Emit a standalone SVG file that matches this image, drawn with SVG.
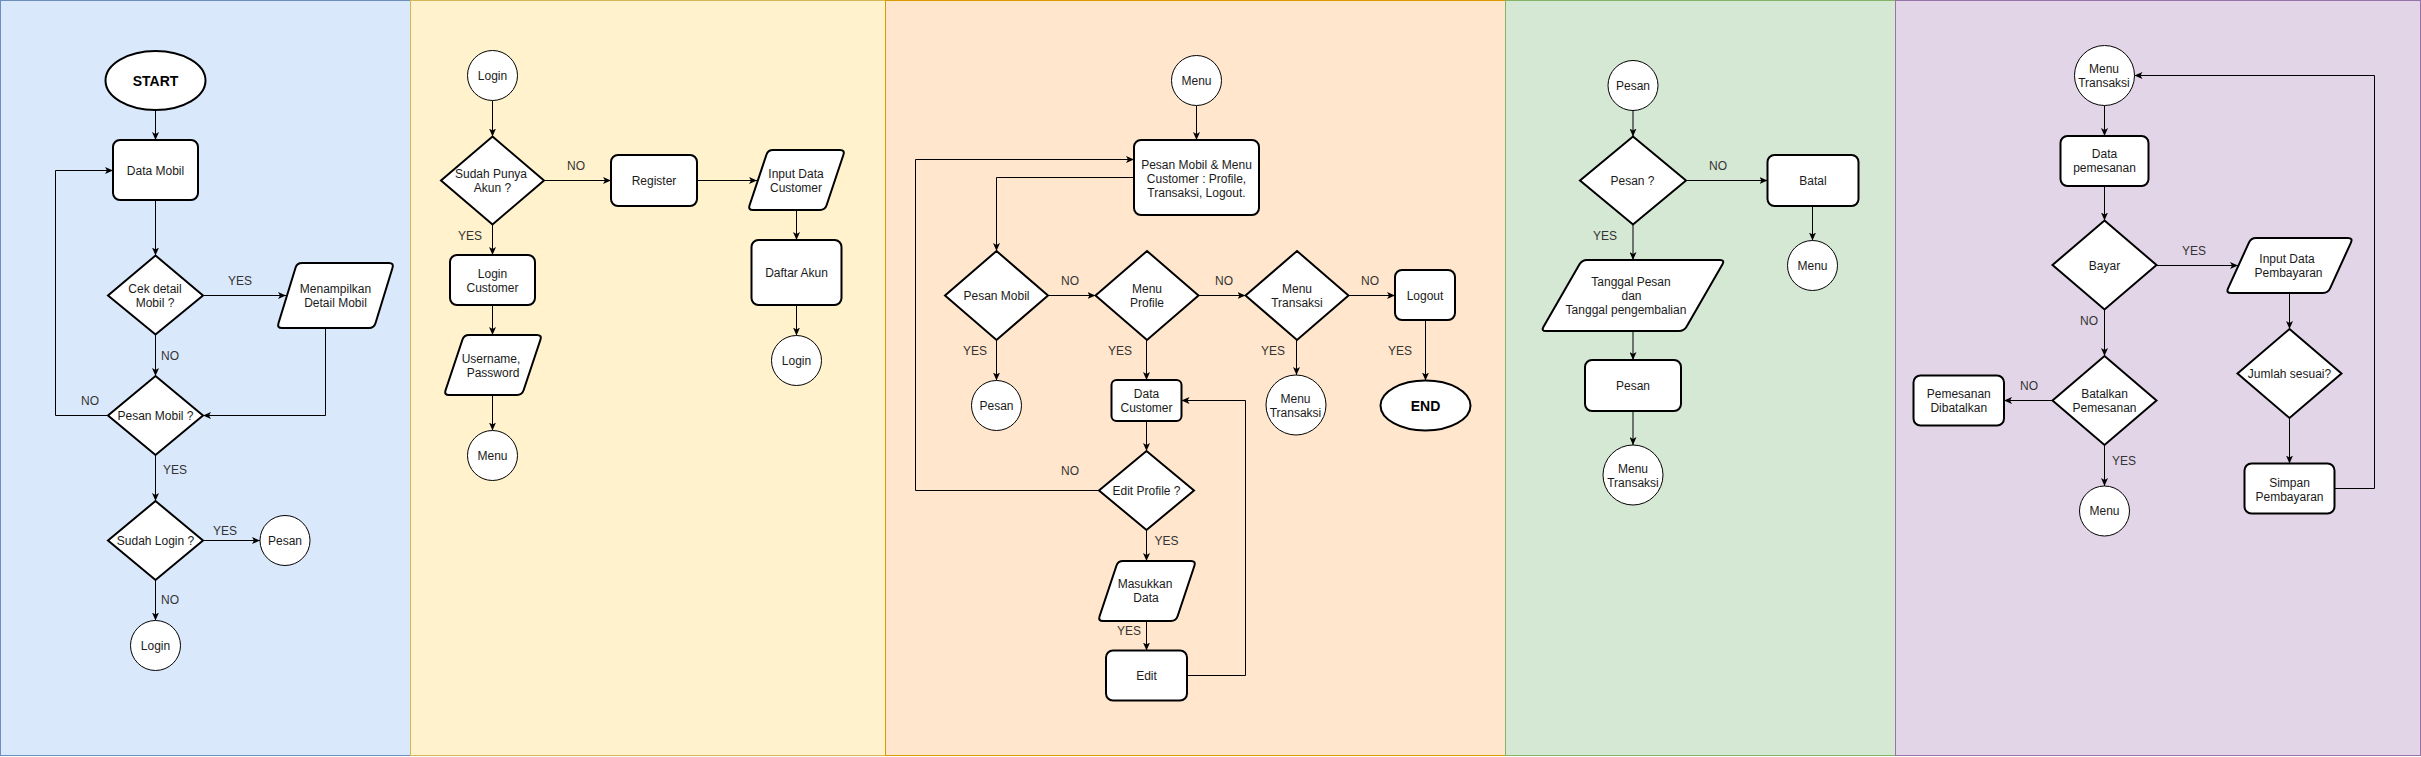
<svg xmlns="http://www.w3.org/2000/svg" width="2421" height="757" viewBox="0 0 2421 757">
<style>
.n{fill:#fff;stroke:#000;stroke-width:2}
.c{fill:#fff;stroke:#000;stroke-width:1}
.e{fill:none;stroke:#000;stroke-width:1}
text{font-family:"Liberation Sans",Arial,sans-serif;font-size:12px;fill:#1a1a1a;text-anchor:middle}
.b{font-weight:bold;font-size:14px;fill:#000}
.l{fill:#333}
</style>
<defs>
<marker id="arr" viewBox="0 0 8 7" refX="8" refY="3.5" markerWidth="8" markerHeight="7" markerUnits="userSpaceOnUse" orient="auto">
<path d="M0,0 L8,3.5 L0,7 L2,3.5 Z" fill="#000"/>
</marker>
</defs>
<rect width="2421" height="757" fill="#fff"/>
<g id="panels">
<rect x="0.5" y="0.5" width="410" height="755" fill="#dae8fc" stroke="#6c8ebf"/>
<rect x="410.5" y="0.5" width="475" height="755" fill="#fff2cc" stroke="#d6b656"/>
<rect x="885.5" y="0.5" width="620" height="755" fill="#ffe6cc" stroke="#d79b00"/>
<rect x="1505.5" y="0.5" width="390" height="755" fill="#d5e8d4" stroke="#82b366"/>
<rect x="1895.5" y="0.5" width="525" height="755" fill="#e1d5e7" stroke="#9673a6"/>
</g>
<g id="connectors" class="e" marker-end="url(#arr)">
<path class="e" marker-end="url(#arr)" d="M155.5,110 V140"/>
<path class="e" marker-end="url(#arr)" d="M155.5,200 V255.5"/>
<path class="e" marker-end="url(#arr)" d="M203,295.5 H286"/>
<path class="e" marker-end="url(#arr)" d="M155.5,334.5 V376"/>
<path class="e" marker-end="url(#arr)" d="M325.5,328 V415.5 H203"/>
<path class="e" marker-end="url(#arr)" d="M108,415.5 H55.5 V170.5 H113"/>
<path class="e" marker-end="url(#arr)" d="M155.5,455 V501"/>
<path class="e" marker-end="url(#arr)" d="M203,540.5 H260"/>
<path class="e" marker-end="url(#arr)" d="M155.5,580 V620.5"/>
<path class="e" marker-end="url(#arr)" d="M492.5,100.5 V136.5"/>
<path class="e" marker-end="url(#arr)" d="M544,180.5 H611"/>
<path class="e" marker-end="url(#arr)" d="M697,180.5 H757"/>
<path class="e" marker-end="url(#arr)" d="M796.5,210 V240"/>
<path class="e" marker-end="url(#arr)" d="M796.5,305 V335.5"/>
<path class="e" marker-end="url(#arr)" d="M492.5,224.5 V255"/>
<path class="e" marker-end="url(#arr)" d="M492.5,305 V335"/>
<path class="e" marker-end="url(#arr)" d="M492.5,395 V430.5"/>
<path class="e" marker-end="url(#arr)" d="M1196.5,105.5 V140"/>
<path class="e" marker-end="url(#arr)" d="M1134,177.5 H996.5 V251"/>
<path class="e" marker-end="url(#arr)" d="M1048,295.5 H1095.5"/>
<path class="e" marker-end="url(#arr)" d="M1198.5,295.5 H1245.5"/>
<path class="e" marker-end="url(#arr)" d="M1348.5,295.5 H1395"/>
<path class="e" marker-end="url(#arr)" d="M1425.5,320 V380.5"/>
<path class="e" marker-end="url(#arr)" d="M996.5,340 V380.5"/>
<path class="e" marker-end="url(#arr)" d="M1146.5,340 V380"/>
<path class="e" marker-end="url(#arr)" d="M1296.5,340 V375"/>
<path class="e" marker-end="url(#arr)" d="M1146.5,421 V451"/>
<path class="e" marker-end="url(#arr)" d="M1099,490.5 H915.5 V159.5 H1134"/>
<path class="e" marker-end="url(#arr)" d="M1146.5,530 V561"/>
<path class="e" marker-end="url(#arr)" d="M1146.5,621 V650.5"/>
<path class="e" marker-end="url(#arr)" d="M1187,675.5 H1245.5 V400.5 H1181.5"/>
<path class="e" marker-end="url(#arr)" d="M1633,110.5 V136.5"/>
<path class="e" marker-end="url(#arr)" d="M1686,180.5 H1767.5"/>
<path class="e" marker-end="url(#arr)" d="M1812.5,206 V240.5"/>
<path class="e" marker-end="url(#arr)" d="M1633,224.5 V260"/>
<path class="e" marker-end="url(#arr)" d="M1633,331 V360"/>
<path class="e" marker-end="url(#arr)" d="M1633,411 V445"/>
<path class="e" marker-end="url(#arr)" d="M2104.5,105.5 V136"/>
<path class="e" marker-end="url(#arr)" d="M2104.5,186 V220.5"/>
<path class="e" marker-end="url(#arr)" d="M2156.5,265.5 H2238"/>
<path class="e" marker-end="url(#arr)" d="M2289.5,293 V329"/>
<path class="e" marker-end="url(#arr)" d="M2289.5,418 V463.5"/>
<path class="e" marker-end="url(#arr)" d="M2334.5,488.5 H2374.5 V75.5 H2134.5"/>
<path class="e" marker-end="url(#arr)" d="M2104.5,309.5 V356"/>
<path class="e" marker-end="url(#arr)" d="M2052.5,400.5 H2004"/>
<path class="e" marker-end="url(#arr)" d="M2104.5,445 V486"/>
</g>
<g id="edge-labels">
<text class="l" x="240" y="285">YES</text>
<text class="l" x="170" y="360">NO</text>
<text class="l" x="90" y="405">NO</text>
<text class="l" x="175" y="474">YES</text>
<text class="l" x="225" y="535">YES</text>
<text class="l" x="170" y="604">NO</text>
<text class="l" x="576" y="170">NO</text>
<text class="l" x="470" y="240">YES</text>
<text class="l" x="1070" y="285">NO</text>
<text class="l" x="1224" y="285">NO</text>
<text class="l" x="1370" y="285">NO</text>
<text class="l" x="975" y="355">YES</text>
<text class="l" x="1120" y="355">YES</text>
<text class="l" x="1273" y="355">YES</text>
<text class="l" x="1400" y="355">YES</text>
<text class="l" x="1070" y="475">NO</text>
<text class="l" x="1166.5" y="545">YES</text>
<text class="l" x="1129" y="635">YES</text>
<text class="l" x="1718" y="170">NO</text>
<text class="l" x="1605" y="240">YES</text>
<text class="l" x="2194" y="254.5">YES</text>
<text class="l" x="2089" y="325">NO</text>
<text class="l" x="2029" y="390">NO</text>
<text class="l" x="2124" y="465">YES</text>
</g>
<g id="p1-start"><ellipse class="n" cx="155.5" cy="80.5" rx="50" ry="29.5"/><text class="b" x="155.5" y="86">START</text></g>
<g id="p1-data-mobil"><rect class="n" x="113" y="140" width="85" height="60" rx="7"/><text x="155.5" y="174.5">Data Mobil</text></g>
<g id="p1-cek-detail"><polygon class="n" points="155.5,255.5 203,295.5 155.5,334.5 108,295.5"/><text x="155" y="293">Cek detail</text><text x="155" y="307">Mobil ?</text></g>
<g id="p1-menampilkan"><path class="n" d="M302,263 L389,263 Q394,263 392.53,267.78 L375.47,323.22 Q374,328 369,328 L282,328 Q277,328 278.47,323.22 L295.53,267.78 Q297,263 302,263 Z"/><text x="335.5" y="293">Menampilkan</text><text x="335.5" y="307">Detail Mobil</text></g>
<g id="p1-pesan-mobil"><polygon class="n" points="155.5,376 203,415.5 155.5,455 108,415.5"/><text x="155.5" y="419.5">Pesan Mobil ?</text></g>
<g id="p1-sudah-login"><polygon class="n" points="155.5,501 203,540.5 155.5,580 108,540.5"/><text x="155.5" y="544.5">Sudah Login ?</text></g>
<g id="p1-pesan"><circle class="c" cx="285" cy="540.5" r="25"/><text x="285" y="544.5">Pesan</text></g>
<g id="p1-login"><circle class="c" cx="155.5" cy="645.5" r="25"/><text x="155.5" y="649.5">Login</text></g>
<g id="p2-login"><circle class="c" cx="492.5" cy="75.5" r="25"/><text x="492.5" y="79.5">Login</text></g>
<g id="p2-sudah-punya"><polygon class="n" points="492.5,136.5 544,180.5 492.5,224.5 441,180.5"/><text x="491" y="177.5">Sudah Punya</text><text x="492.5" y="191.5">Akun ?</text></g>
<g id="p2-register"><rect class="n" x="611" y="155" width="86" height="51" rx="7"/><text x="654" y="184.5">Register</text></g>
<g id="p2-input-data"><path class="n" d="M773,150 L840,150 Q845,150 843.42,154.74 L826.58,205.26 Q825,210 820,210 L753,210 Q748,210 749.58,205.26 L766.42,154.74 Q768,150 773,150 Z"/><text x="796" y="177.5">Input Data</text><text x="796" y="191.5">Customer</text></g>
<g id="p2-daftar-akun"><rect class="n" x="751.5" y="240" width="90" height="65" rx="7"/><text x="796.5" y="277">Daftar Akun</text></g>
<g id="p2-login2"><circle class="c" cx="796.5" cy="360.5" r="25"/><text x="796.5" y="364.5">Login</text></g>
<g id="p2-login-customer"><rect class="n" x="450" y="255" width="85" height="50" rx="7"/><text x="492.5" y="277.5">Login</text><text x="492.5" y="291.5">Customer</text></g>
<g id="p2-username"><path class="n" d="M469,335 L537,335 Q542,335 540.42,339.74 L523.58,390.26 Q522,395 517,395 L449,395 Q444,395 445.58,390.26 L462.42,339.74 Q464,335 469,335 Z"/><text x="491" y="363">Username,</text><text x="493" y="377">Password</text></g>
<g id="p2-menu"><circle class="c" cx="492.5" cy="455.5" r="25"/><text x="492.5" y="460">Menu</text></g>
<g id="p3-menu"><circle class="c" cx="1196.5" cy="80.5" r="25"/><text x="1196.5" y="84.5">Menu</text></g>
<g id="p3-main-menu"><rect class="n" x="1134" y="140" width="125" height="75" rx="7"/><text x="1196.5" y="168.5">Pesan Mobil &amp; Menu</text><text x="1196.5" y="182.5">Customer : Profile,</text><text x="1196.5" y="196.5">Transaksi, Logout.</text></g>
<g id="p3-pesan-mobil"><polygon class="n" points="996.5,251 1048,295.5 996.5,340 945,295.5"/><text x="996.5" y="300">Pesan Mobil</text></g>
<g id="p3-menu-profile"><polygon class="n" points="1147,251 1198.5,295.5 1147,340 1095.5,295.5"/><text x="1147" y="293">Menu</text><text x="1147" y="307">Profile</text></g>
<g id="p3-menu-transaksi"><polygon class="n" points="1297,251 1348.5,295.5 1297,340 1245.5,295.5"/><text x="1297" y="293">Menu</text><text x="1297" y="307">Transaksi</text></g>
<g id="p3-logout"><rect class="n" x="1395" y="270" width="60" height="50" rx="7"/><text x="1425" y="299.5">Logout</text></g>
<g id="p3-end"><ellipse class="n" cx="1425.5" cy="405.5" rx="45" ry="25"/><text class="b" x="1425.5" y="410.5">END</text></g>
<g id="p3-pesan"><circle class="c" cx="996.5" cy="405.5" r="25"/><text x="996.5" y="409.5">Pesan</text></g>
<g id="p3-data-customer"><rect class="n" x="1111.5" y="380" width="70" height="41" rx="5"/><text x="1146.5" y="397.5">Data</text><text x="1146.5" y="411.5">Customer</text></g>
<g id="p3-menu-transaksi-circle"><circle class="c" cx="1296" cy="405" r="30"/><text x="1295.5" y="402.5">Menu</text><text x="1295.5" y="416.5">Transaksi</text></g>
<g id="p3-edit-profile"><polygon class="n" points="1146.5,451 1194,490.5 1146.5,530 1099,490.5"/><text x="1146.5" y="494.5">Edit Profile ?</text></g>
<g id="p3-masukkan"><path class="n" d="M1123,561 L1191,561 Q1196,561 1194.42,565.74 L1177.58,616.26 Q1176,621 1171,621 L1103,621 Q1098,621 1099.58,616.26 L1116.42,565.74 Q1118,561 1123,561 Z"/><text x="1145" y="588">Masukkan</text><text x="1146" y="602">Data</text></g>
<g id="p3-edit"><rect class="n" x="1106" y="650.5" width="81" height="50" rx="7"/><text x="1146.5" y="679.5">Edit</text></g>
<g id="p4-pesan"><circle class="c" cx="1633" cy="85.5" r="25"/><text x="1633" y="89.5">Pesan</text></g>
<g id="p4-pesan-q"><polygon class="n" points="1633,136.5 1686,180.5 1633,224.5 1580,180.5"/><text x="1632.5" y="184.5">Pesan ?</text></g>
<g id="p4-batal"><rect class="n" x="1767.5" y="155" width="91" height="51" rx="7"/><text x="1813" y="184.5">Batal</text></g>
<g id="p4-menu"><circle class="c" cx="1812.5" cy="265.5" r="25"/><text x="1812.5" y="270">Menu</text></g>
<g id="p4-tanggal"><path class="n" d="M1587,260 L1720,260 Q1725,260 1722.5,264.33 L1686.5,326.67 Q1684,331 1679,331 L1546,331 Q1541,331 1543.5,326.67 L1579.5,264.33 Q1582,260 1587,260 Z"/><text x="1631" y="286">Tanggal Pesan</text><text x="1631.5" y="300">dan</text><text x="1626" y="314">Tanggal pengembalian</text></g>
<g id="p4-pesan-rect"><rect class="n" x="1585" y="360" width="96" height="51" rx="7"/><text x="1633" y="389.5">Pesan</text></g>
<g id="p4-menu-transaksi"><circle class="c" cx="1633" cy="475" r="30"/><text x="1633" y="472.5">Menu</text><text x="1633" y="486.5">Transaksi</text></g>
<g id="p5-menu-transaksi"><circle class="c" cx="2104.5" cy="75.5" r="30"/><text x="2104" y="72.5">Menu</text><text x="2104" y="86.5">Transaksi</text></g>
<g id="p5-data-pemesanan"><rect class="n" x="2060.5" y="136" width="88" height="50" rx="7"/><text x="2104.5" y="158">Data</text><text x="2104.5" y="172">pemesanan</text></g>
<g id="p5-bayar"><polygon class="n" points="2104.5,220.5 2156.5,265 2104.5,309.5 2052.5,265"/><text x="2104.5" y="270">Bayar</text></g>
<g id="p5-input-pembayaran"><path class="n" d="M2256,238 L2348,238 Q2353,238 2350.93,242.55 L2330.07,288.45 Q2328,293 2323,293 L2231,293 Q2226,293 2228.07,288.45 L2248.93,242.55 Q2251,238 2256,238 Z"/><text x="2287" y="263">Input Data</text><text x="2288.5" y="277">Pembayaran</text></g>
<g id="p5-jumlah"><polygon class="n" points="2289.5,329 2341.5,373.5 2289.5,418 2237.5,373.5"/><text x="2289.5" y="377.5">Jumlah sesuai?</text></g>
<g id="p5-simpan"><rect class="n" x="2244.5" y="463.5" width="90" height="50" rx="7"/><text x="2289.5" y="486.5">Simpan</text><text x="2289.5" y="500.5">Pembayaran</text></g>
<g id="p5-batalkan"><polygon class="n" points="2104.5,356 2156.5,400.5 2104.5,445 2052.5,400.5"/><text x="2104.5" y="397.5">Batalkan</text><text x="2104.5" y="411.5">Pemesanan</text></g>
<g id="p5-dibatalkan"><rect class="n" x="1913.5" y="375.5" width="90.5" height="50" rx="7"/><text x="1958.75" y="397.5">Pemesanan</text><text x="1958.75" y="411.5">Dibatalkan</text></g>
<g id="p5-menu"><circle class="c" cx="2104.5" cy="511" r="25"/><text x="2104.5" y="515">Menu</text></g>
</svg>
